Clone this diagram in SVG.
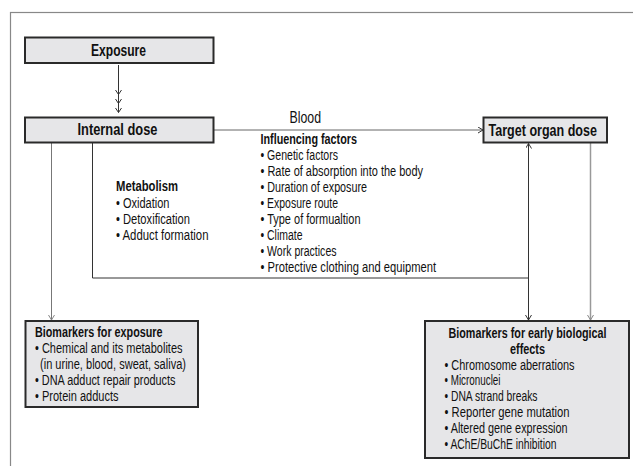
<svg xmlns="http://www.w3.org/2000/svg" width="633" height="466" viewBox="0 0 633 466">
<defs>
<marker id="ah" markerWidth="8" markerHeight="8" refX="5" refY="3" orient="auto" markerUnits="userSpaceOnUse">
<path d="M0,0 L5,3 L0,6" fill="none" stroke="#333" stroke-width="1"/>
</marker>
<marker id="ahg" markerWidth="8" markerHeight="8" refX="5" refY="3" orient="auto" markerUnits="userSpaceOnUse">
<path d="M0,0 L5,3 L0,6" fill="none" stroke="#888" stroke-width="1"/>
</marker>
</defs>
<style>
.box{fill:#e6e6e8;stroke:#2a2a2a;stroke-width:2}
.t{font-family:"Liberation Sans",Arial,sans-serif;fill:#111}
.h{font-size:17px;font-weight:bold}
.b{font-size:14px;font-weight:bold}
.r{font-size:14px}
.c{fill:none;stroke:#333;stroke-width:1}
.cg{fill:none;stroke:#888;stroke-width:1}
</style>
<rect x="10.5" y="12.5" width="700" height="500" fill="#fff" stroke="#888" stroke-width="1.2"/>

<g id="connectors">
<line class="c" x1="118.5" y1="65" x2="118.5" y2="112.5"/>
<path class="c" d="M115.5,90 L118.5,94.5 L121.5,90 M115.5,99 L118.5,103.5 L121.5,99 M115.5,108 L118.5,112.5 L121.5,108"/>
<line class="cg" x1="214" y1="130" x2="483" y2="130" marker-end="url(#ah)" style="stroke:#666"/>
<line class="cg" x1="51.5" y1="143" x2="51.5" y2="320" marker-end="url(#ahg)" style="stroke:#777"/>
<polyline class="c" points="92.5,143 92.5,278 528.5,278"/>
<line class="c" x1="528.5" y1="278" x2="528.5" y2="143.5" marker-end="url(#ah)"/>
<line class="c" x1="528.5" y1="278" x2="528.5" y2="320" marker-end="url(#ah)"/>
<line class="cg" x1="590.5" y1="143" x2="590.5" y2="320" marker-end="url(#ahg)" style="stroke:#999;stroke-width:1.5"/>
</g>

<g id="blood-label">
<text class="t" x="289.5" y="122.5" font-size="16" textLength="31.5" lengthAdjust="spacingAndGlyphs">Blood</text>
</g>

<g id="exposure">
<rect class="box" x="25" y="37.5" width="188.5" height="25.5"/>
<text class="t h" x="91" y="55.5" textLength="55" lengthAdjust="spacingAndGlyphs">Exposure</text>
</g>

<g id="internal-dose">
<rect class="box" x="25" y="117.5" width="188.5" height="25"/>
<text class="t h" x="77.5" y="135" textLength="80" lengthAdjust="spacingAndGlyphs">Internal dose</text>
</g>

<g id="target-organ-dose">
<rect class="box" x="483.5" y="117.5" width="123.5" height="25"/>
<text class="t h" transform="translate(488.5,135.5) scale(0.73,1)" x="0" y="0" textLength="148.6" lengthAdjust="spacingAndGlyphs">Target organ dose</text>
</g>

<g id="influencing-factors">
<text class="t b" x="260.5" y="143.5" textLength="96.5" lengthAdjust="spacingAndGlyphs">Influencing factors</text>
<text class="t r" x="260.5" y="159.5" textLength="77.5" lengthAdjust="spacingAndGlyphs">• Genetic factors</text>
<text class="t r" x="260.5" y="175.5" textLength="162.5" lengthAdjust="spacingAndGlyphs">• Rate of absorption into the body</text>
<text class="t r" x="260.5" y="191.5" textLength="106.5" lengthAdjust="spacingAndGlyphs">• Duration of exposure</text>
<text class="t r" x="260.5" y="207.5" textLength="77.5" lengthAdjust="spacingAndGlyphs">• Exposure route</text>
<text class="t r" x="260.5" y="223.5" textLength="100" lengthAdjust="spacingAndGlyphs">• Type of formualtion</text>
<text class="t r" x="260.5" y="239.5" textLength="42" lengthAdjust="spacingAndGlyphs">• Climate</text>
<text class="t r" x="260.5" y="255.5" textLength="76" lengthAdjust="spacingAndGlyphs">• Work practices</text>
<text class="t r" x="260.5" y="271.5" textLength="175.5" lengthAdjust="spacingAndGlyphs">• Protective clothing and equipment</text>
</g>

<g id="metabolism">
<text class="t b" x="116" y="191" textLength="62" lengthAdjust="spacingAndGlyphs">Metabolism</text>
<text class="t r" x="116" y="207.5" textLength="53.5" lengthAdjust="spacingAndGlyphs">• Oxidation</text>
<text class="t r" x="116" y="223.5" textLength="74" lengthAdjust="spacingAndGlyphs">• Detoxification</text>
<text class="t r" x="116" y="239.5" textLength="92.5" lengthAdjust="spacingAndGlyphs">• Adduct formation</text>
</g>

<g id="biomarkers-exposure">
<rect class="box" x="25.5" y="321" width="172.5" height="86"/>
<text class="t b" x="35" y="337.3" textLength="127.5" lengthAdjust="spacingAndGlyphs">Biomarkers for exposure</text>
<text class="t r" x="35" y="353.3" textLength="147.5" lengthAdjust="spacingAndGlyphs">• Chemical and its metabolites</text>
<text class="t r" x="40" y="369.3" textLength="146" lengthAdjust="spacingAndGlyphs">(in urine, blood, sweat, saliva)</text>
<text class="t r" x="35" y="385" textLength="140.5" lengthAdjust="spacingAndGlyphs">• DNA adduct repair products</text>
<text class="t r" x="35" y="400.7" textLength="83.5" lengthAdjust="spacingAndGlyphs">• Protein adducts</text>
</g>

<g id="biomarkers-effects">
<rect class="box" x="425" y="321" width="204" height="137"/>
<text class="t b" transform="translate(448.5,338.3) scale(0.77,1)" x="0" y="0" textLength="205.2" lengthAdjust="spacingAndGlyphs">Biomarkers for early biological</text>
<text class="t b" x="510" y="354" textLength="35" lengthAdjust="spacingAndGlyphs">effects</text>
<text class="t r" x="444.5" y="369.5" textLength="130" lengthAdjust="spacingAndGlyphs">• Chromosome aberrations</text>
<text class="t r" x="444.5" y="385.3" textLength="56" lengthAdjust="spacingAndGlyphs">• Micronuclei</text>
<text class="t r" x="444.5" y="401.2" textLength="93" lengthAdjust="spacingAndGlyphs">• DNA strand breaks</text>
<text class="t r" x="444.5" y="417" textLength="125" lengthAdjust="spacingAndGlyphs">• Reporter gene mutation</text>
<text class="t r" x="444.5" y="433" textLength="123" lengthAdjust="spacingAndGlyphs">• Altered gene expression</text>
<text class="t r" x="444.5" y="449" textLength="112" lengthAdjust="spacingAndGlyphs">• AChE/BuChE inhibition</text>
</g>
</svg>
